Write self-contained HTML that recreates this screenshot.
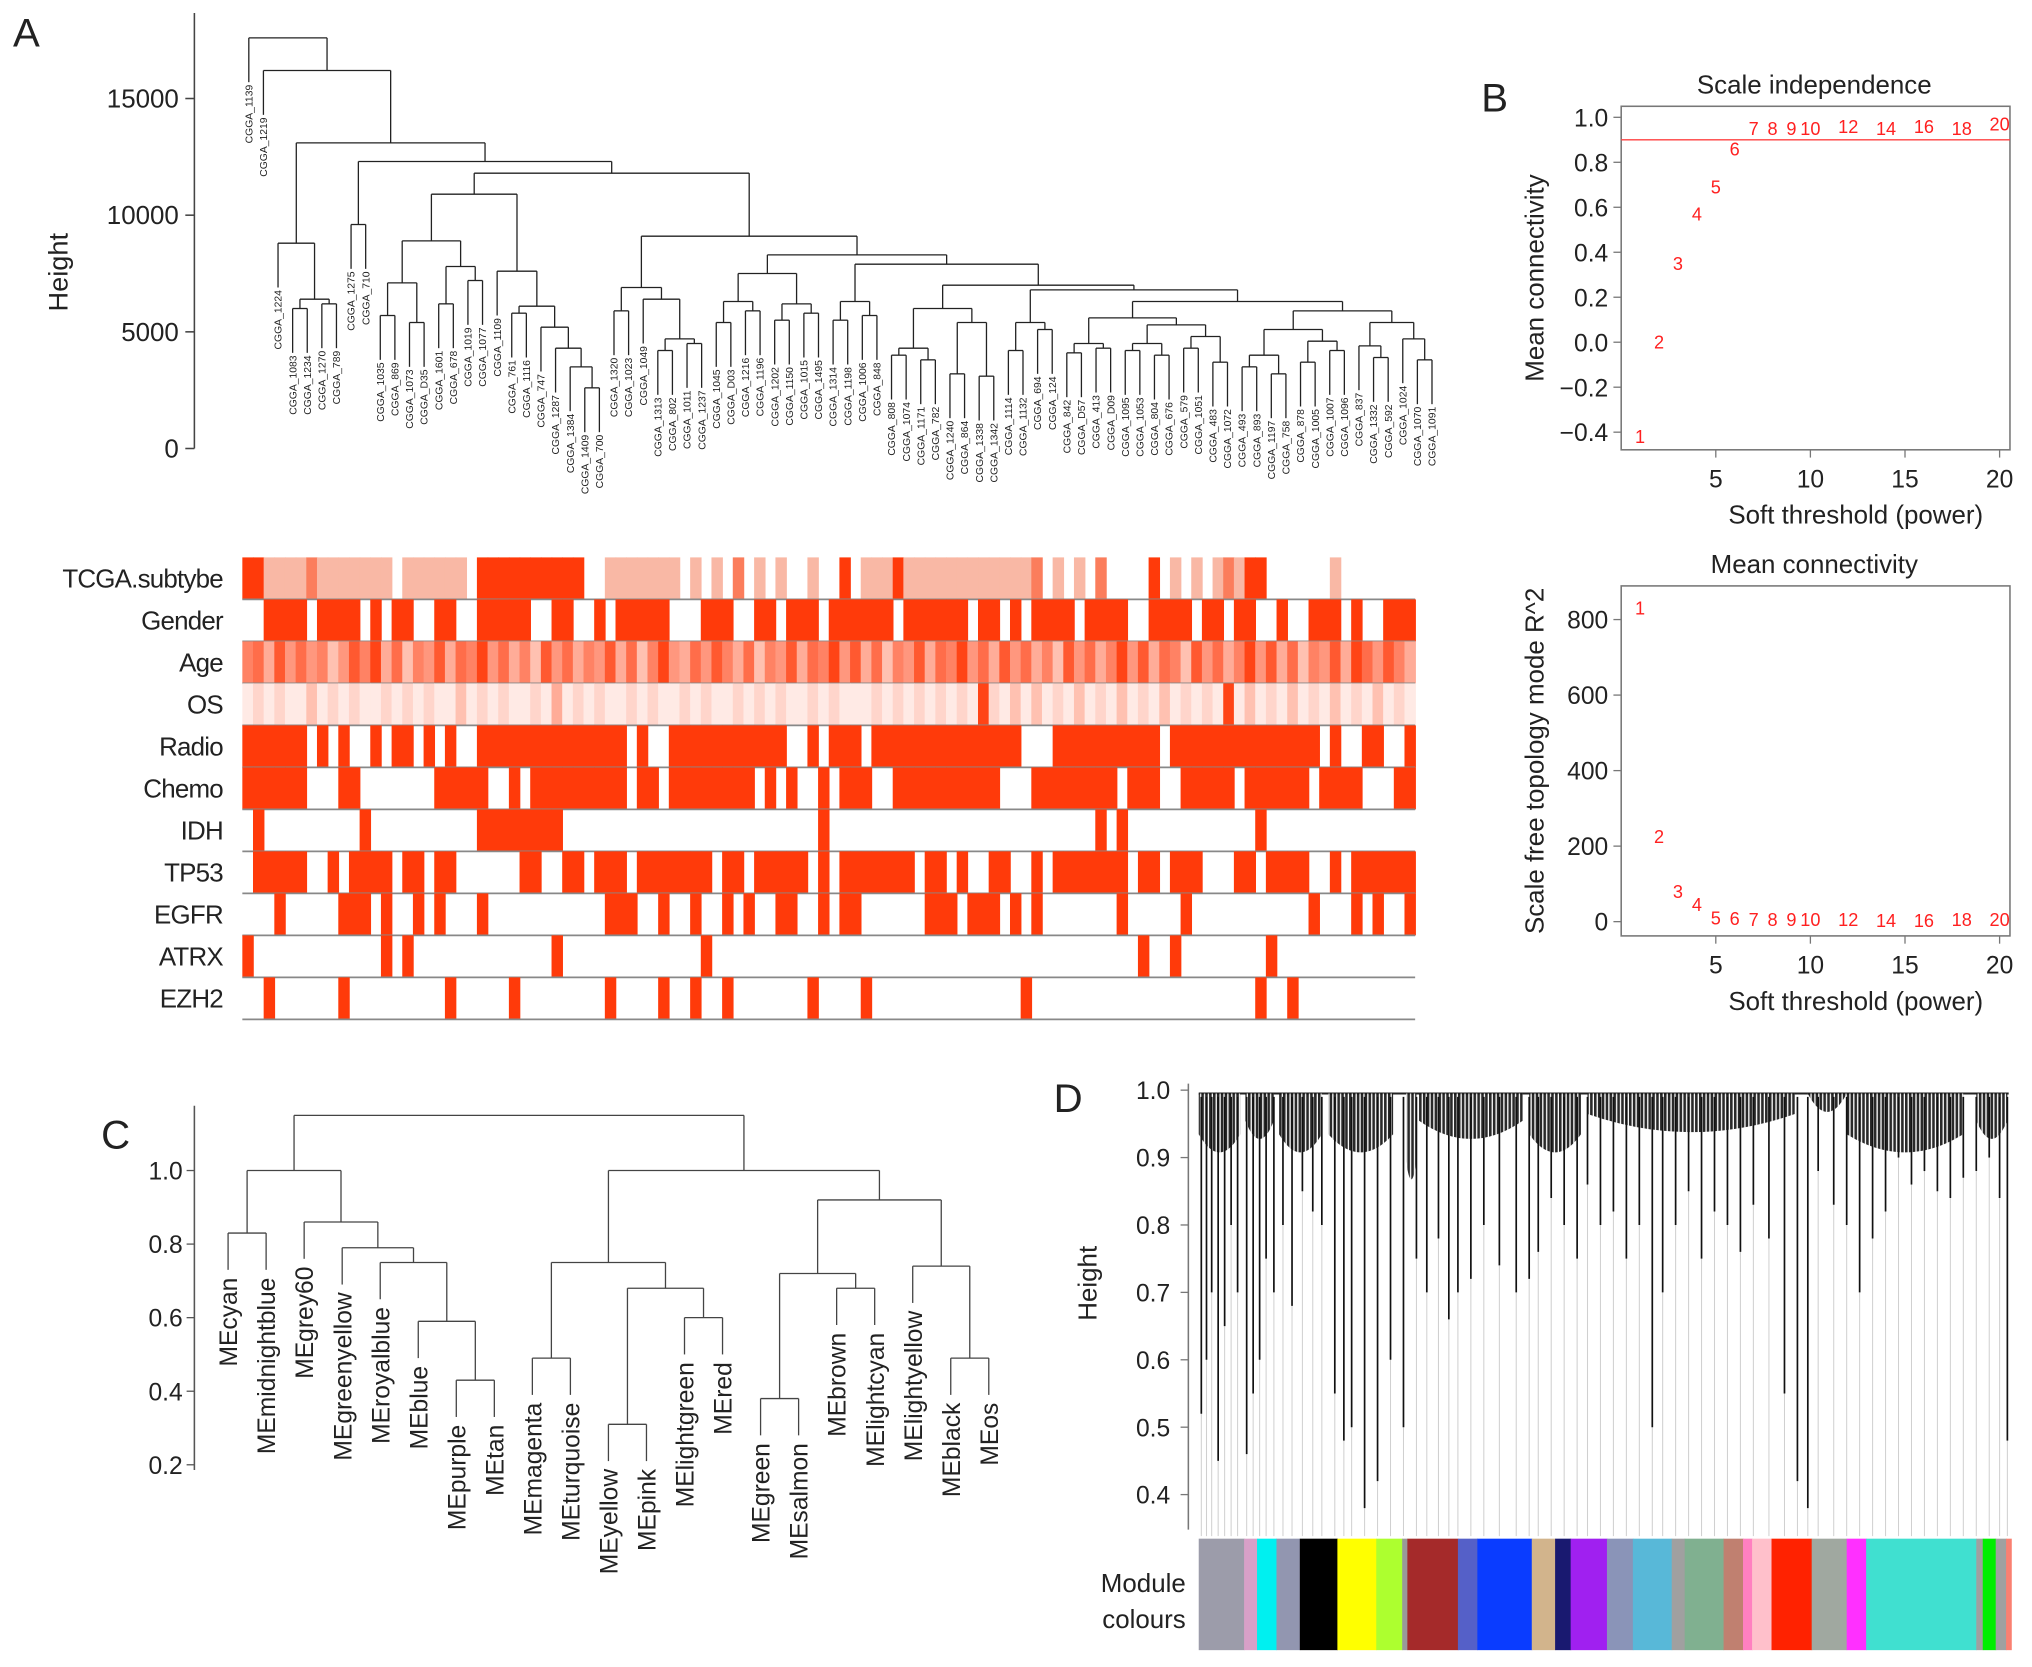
<!DOCTYPE html>
<html><head><meta charset="utf-8"><style>
html,body{margin:0;padding:0;background:#fff;}
svg{display:block;font-family:"Liberation Sans",Arial,sans-serif;}
</style></head><body>
<svg id="fig" width="2032" height="1667" viewBox="0 0 1568 1286" preserveAspectRatio="none" xmlns="http://www.w3.org/2000/svg">
<defs><pattern id="dense" patternUnits="userSpaceOnUse" width="3" height="6"><rect width="3" height="6" fill="#fff"/><rect x="0" y="0" width="2" height="6" fill="#111"/></pattern></defs>
</svg>
<script>
// ---------- DATA ----------
const tA = [8800,"CGGA_1224",[6400,[6000,"CGGA_1083","CGGA_1234"],[6200,"CGGA_1270","CGGA_789"]]];
const tB1 = [10900,[8900,[7100,[5700,"CGGA_1035","CGGA_869"],[5400,"CGGA_1073","CGGA_D35"]],[7800,[6200,"CGGA_1601","CGGA_678"],[7200,"CGGA_1019","CGGA_1077"]]],[7600,"CGGA_1109",[6100,[5800,"CGGA_761","CGGA_1116"],[5200,"CGGA_747",[4300,"CGGA_1287",[3500,"CGGA_1384",[2600,"CGGA_1409","CGGA_700"]]]]]]];
const tR1 = [6900,[5900,"CGGA_1320","CGGA_1023"],[6400,"CGGA_1049",[4700,[4200,"CGGA_1313","CGGA_802"],[4500,"CGGA_1011","CGGA_1237"]]]];
const tR2 = [7500,[6300,[5400,"CGGA_1045","CGGA_D03"],[5900,"CGGA_1216","CGGA_1196"]],[6200,[5500,"CGGA_1202","CGGA_1150"],[5800,"CGGA_1015","CGGA_1495"]]];
const tR3 = [6300,[5500,"CGGA_1314","CGGA_1198"],[5700,"CGGA_1006","CGGA_848"]];
const tR4 = [6000,[4300,[4000,"CGGA_808","CGGA_1074"],[3800,"CGGA_1171","CGGA_782"]],[5400,[3200,"CGGA_1240","CGGA_864"],[3100,"CGGA_1338","CGGA_1342"]]];
const tR5 = [5400,[4200,"CGGA_1114","CGGA_1132"],[5100,"CGGA_694","CGGA_124"]];
const tR6 = [5600,[4500,[4100,"CGGA_842","CGGA_D57"],[4300,"CGGA_413","CGGA_D09"]],[5300,[4500,[4200,"CGGA_1095","CGGA_1053"],[4000,"CGGA_804","CGGA_676"]],[4800,[4300,"CGGA_579","CGGA_1051"],[3700,"CGGA_483","CGGA_1072"]]]];
const tR7 = [5900,[5100,[4000,[3500,"CGGA_493","CGGA_893"],[3200,"CGGA_1197","CGGA_758"]],[4600,[3700,"CGGA_878","CGGA_1005"],[4200,"CGGA_1007","CGGA_1096"]]],[5400,[4400,"CGGA_837",[3900,"CGGA_1332","CGGA_592"]],[4700,"CGGA_1024",[3800,"CGGA_1070","CGGA_1091"]]]];
const sampleTree = [17600,"CGGA_1139",[16200,"CGGA_1219",[13100,tA,[12300,[9600,"CGGA_1275","CGGA_710"],[11800,tB1,[9100,tR1,[8300,tR2,[7900,tR3,[7000,tR4,[6800,tR5,[6300,tR6,tR7]]]]]]]]]]];
const heightTicks = [0,5000,10000,15000];

const traitNames = ["TCGA.subtybe","Gender","Age","OS","Radio","Chemo","IDH","TP53","EGFR","ATRX","EZH2"];
const traitKinds = ["cat","bin","grad","grad","bin","bin","bin","bin","bin","bin","bin"];
const traitValues = [
"33111121111111011111103333333333001111111010102010100100301113111111111111201010200003010101213300000010000000",
"0011110111101011001100111110011001011111000111001101110111111011111101101011110111100111101101100100111010011101",
"6748575635869473658476957463857465847369547586473658476958473658476957485746385746958476385746958473658497586475",
"1212113121211212121131212112141212112121121211212121121211121212121219213131213121312131212191312131213121312131",
"1111110101001011010100111111111111110100111111111110010111011111111111111000111111111101111111111111101001100111",
"1111110001100000001111100101111111110110111111110101001011100111111111100011111111011100111110111111011110001111",
"0100000000010000000000111111110000000000000000000000001000000000000000000000000010100000000000010000000000000000",
"0111110010111101101100000011001101110111111101101111101011111110110100110010111111101101110001101111001011111111",
"0001000001110100101000100000000000111001001001010011001011000000111011101010000000100000100000000000100010100100",
"1000000000000101000000000000010000000000000100000000000000000000000000000000000000001001000000001000000000000000",
"0010000001000000000100000100000000100001001001000000010000100000000000000100000000000000000000010010000000000000"];

const powers = [1,2,3,4,5,6,7,8,9,10,12,14,16,18,20];
const fitR2 = [-0.42,0.0,0.35,0.57,0.69,0.86,0.95,0.95,0.95,0.95,0.96,0.95,0.96,0.95,0.97];
const meanK = [830,225,80,45,10,8,6,5,5,5,5,3,3,5,5];
const xTicksB = [5,10,15,20];
const yTicksB1 = [-0.4,-0.2,0.0,0.2,0.4,0.6,0.8,1.0];
const yTicksB2 = [0,200,400,600,800];
const cutoffR2 = 0.9;

const meTree = [1.15,
 [1.0,[0.83,"MEcyan","MEmidnightblue"],[0.86,"MEgrey60",[0.79,"MEgreenyellow",[0.75,"MEroyalblue",[0.59,"MEblue",[0.43,"MEpurple","MEtan"]]]]]],
 [1.0,[0.75,[0.49,"MEmagenta","MEturquoise"],[0.68,[0.31,"MEyellow","MEpink"],[0.60,"MElightgreen","MEred"]]],
      [0.92,[0.72,[0.38,"MEgreen","MEsalmon"],[0.68,"MEbrown","MElightcyan"]],[0.74,"MElightyellow",[0.49,"MEblack","MEos"]]]]];
const yTicksC = [0.2,0.4,0.6,0.8,1.0];

const branchPos = [2,6,10,15,20,25,30,37,42,47,52,58,65,72,80,88,95,105,112,118,128,138,148,158,168,176,185,193,200,210,220,232,245,255,262,272,282,292,300,310,320,330,340,350,358,368,378,388,398,408,418,428,440,452,462,470,478,490,500,510,520,530,540,550,560,570,580,590,600,610,618,624];
const branchH = [0.52,0.6,0.7,0.45,0.65,0.8,0.7,0.46,0.55,0.6,0.75,0.7,0.8,0.68,0.85,0.82,0.8,0.55,0.48,0.5,0.38,0.42,0.6,0.5,0.75,0.7,0.78,0.66,0.7,0.72,0.8,0.74,0.7,0.72,0.76,0.84,0.8,0.75,0.86,0.8,0.82,0.75,0.8,0.5,0.7,0.8,0.85,0.75,0.82,0.8,0.76,0.83,0.78,0.55,0.42,0.38,0.88,0.83,0.8,0.7,0.78,0.82,0.9,0.86,0.88,0.85,0.84,0.87,0.88,0.9,0.84,0.48];
const massStart = [0,36,62,100,160,170,255,300,470,500,600];
const massEnd = [32,58,95,150,168,250,295,460,500,590,624];
const massDepth = [0.9,0.92,0.9,0.9,0.86,0.92,0.9,0.93,0.96,0.9,0.92];
const moduleColors = ["#9c9caa","#d8a0c8","#00f0f0","#9296b0","#000000","#ffff00","#adff2f","#999999","#a52a2a","#5560c8","#0a3cff","#d2b48c","#191970","#a020f0","#8a94b8","#58b8d8","#a0a0a0","#80b090","#c08070","#ff80c0","#ffc0cb","#ff2200","#a0a8a0","#ff30ff","#40e0d0","#a0a0a0","#00ee00","#a0a0a0","#fa8072"];
const moduleSizes = [35,10,15,18,29,30,20,4,39,15,42,18,12,28,20,30,10,30,15,7,15,31,27,15,85,5,10,8,4];
const yTicksD = [0.4,0.5,0.6,0.7,0.8,0.9,1.0];

// ---------- HELPERS ----------
const NS="http://www.w3.org/2000/svg";
const svg=document.getElementById('fig');
function el(tag,attrs,parent){const e=document.createElementNS(NS,tag);for(const k in attrs)e.setAttribute(k,attrs[k]);(parent||svg).appendChild(e);return e;}
function txt(x,y,s,size,anchor,parent,extra){const e=el('text',Object.assign({x:x,y:y,'font-size':size,'text-anchor':anchor||'start',fill:'#222'},extra||{}),parent);e.textContent=s;return e;}
function grp(){return el('g',{});}
function countLeaves(t){return typeof t==='string'?1:countLeaves(t[1])+countLeaves(t[2]);}

function drawTree(t,g,xs,ys,hang,labelFn,stroke,sw){
  let idx=0;
  function rec(node,parentH){
    if(typeof node==='string'){
      const x=xs(idx++);const yEnd=ys(parentH-hang);
      const l=el('line',{x1:x,y1:ys(parentH),x2:x,y2:yEnd,stroke:stroke,'stroke-width':sw},g);
      
      
      labelFn(node,x,yEnd);
      return {x:x};
    }
    const a=rec(node[1],node[0]);const b=rec(node[2],node[0]);
    const y=ys(node[0]);
    const h=el('line',{x1:a.x,y1:y,x2:b.x,y2:y,stroke:stroke,'stroke-width':sw},g);
    
    
    const mx=(a.x+b.x)/2;
    if(parentH!==null){
      const v=el('line',{x1:mx,y1:ys(parentH),x2:mx,y2:y,stroke:stroke,'stroke-width':sw},g);
      
      
    }
    return {x:mx};
  }
  rec(t,null);
}

[["A",10,36],["B",1143,86],["C",78,886],["D",813,858]].forEach(p=>{
  const t=txt(p[1],p[2],p[0],31,'start');
  
  
});

// ---------- PANEL A DENDROGRAM ----------
(function(){
  const g=grp();
  
  
  const n=countLeaves(sampleTree);
  const xs=i=>192+i*(1105-192)/(n-1);
  const ys=h=>346-h*0.018;
  el('line',{x1:150,y1:10,x2:150,y2:346,stroke:'#444','stroke-width':1.2},g);
  heightTicks.forEach(v=>{
    const tk=el('line',{x1:143,y1:ys(v),x2:150,y2:ys(v),stroke:'#444','stroke-width':1.2},g);
    
    
    const l=txt(138,ys(v)+7,String(v),20,'end',g);
    
    
  });
  const yl=txt(0,0,"Height",21,'middle',g,{transform:'translate(52,210) rotate(-90)'});
  
  
  drawTree(sampleTree,g,xs,ys,1900,(name,x,y)=>{
    const t=txt(0,0,name,8,'end',g,{transform:'translate('+(x+2.8)+','+(y+2)+') rotate(-90)'});
    
    
  },'#222',1);
})();

// ---------- PANEL A HEATMAP ----------
(function(){
  const g=grp();
  
  
  const N=110,x0=187,x1=1092,top0=430,rh=32.4,cw=(x1-x0)/N;
  const red=[255,58,10];
  function shade(f){return 'rgb('+red.map(c=>Math.round(255-(255-c)*f)).join(',')+')';}
  const catCol=['#ffffff','#f9b8a5','#fb7d5c','#ff3a0a'];
  traitNames.forEach((name,r)=>{
    const y=top0+r*rh;
    const s=traitValues[r].padEnd(N,'0').slice(0,N);
    for(let i=0;i<N;i++){
      const v=+s[i];let col;
      if(traitKinds[r]==='bin'){if(!v)continue;col='#ff3a0a';}
      else if(traitKinds[r]==='cat'){if(!v)continue;col=catCol[v];}
      else col=shade(Math.max(0.04,v/9*0.95));
      const c=el('rect',{x:x0+i*cw,y:y,width:cw+0.6,height:rh,fill:col},g);
      
      
    }
    const ln=el('line',{x1:x0,y1:y+rh,x2:x1,y2:y+rh,stroke:'#888','stroke-width':1.3},g);
    
    
    const lb=txt(172,y+rh/2+7,name,20,'end',g,{'letter-spacing':'-0.6'});
    
    
  });
})();

// ---------- PANEL B ----------
function scatterPanel(name,title,ys,yTicks,vals,top0,bottom,ylab,fmt,withCut){
  const g=grp();
  
  
  const xs=p=>1324+(p-5)*14.6;
  el('rect',{x:1251,y:top0,width:300,height:bottom-top0,fill:'none',stroke:'#777','stroke-width':1.2},g);
  const t=txt(1400,top0-10,title,20,'middle',g);
  
  
  yTicks.forEach(v=>{
    const tk=el('line',{x1:1245,y1:ys(v),x2:1251,y2:ys(v),stroke:'#777'},g);
    
    
    const l=txt(1241,ys(v)+7,fmt(v),19,'end',g);
    
    
  });
  xTicksB.forEach(v=>{
    const tk=el('line',{x1:xs(v),y1:bottom,x2:xs(v),y2:bottom+6,stroke:'#777'},g);
    
    
    const l=txt(xs(v),bottom+29,String(v),19,'middle',g);
    
    
  });
  const xl=txt(1432,bottom+57,"Soft threshold (power)",20,'middle',g);
  
  
  const yl=txt(0,0,ylab,20,'middle',g,{transform:'translate(1191,'+((top0+bottom)/2)+') rotate(-90)'});
  
  
  if(withCut){
    const c=el('line',{x1:1251,y1:ys(cutoffR2),x2:1551,y2:ys(cutoffR2),stroke:'#ff4040','stroke-width':1},g);
    
    
  }
  powers.forEach((p,i)=>{
    const l=txt(xs(p),ys(vals[i])+5,String(p),14,'middle',g,{fill:'#ff2020'});
    
    
  });
}
scatterPanel('scale-independence-plot','Scale independence',v=>264-v*173.5,yTicksB1,fitR2,82,347,'Mean connectivity',v=>v.toFixed(1).replace('-','\u2212'),true);
scatterPanel('mean-connectivity-plot','Mean connectivity',v=>711-v*0.2913,yTicksB2,meanK,452,722,'Scale free topology mode R^2',v=>String(v),false);

// ---------- PANEL C ----------
(function(){
  const g=grp();
  
  
  const ys=h=>903-(h-1.0)*283.75;
  const xs=i=>176+i*29.35;
  el('line',{x1:150,y1:853,x2:150,y2:ys(0.2)+4,stroke:'#555','stroke-width':1.2},g);
  yTicksC.forEach(v=>{
    const tk=el('line',{x1:144,y1:ys(v),x2:150,y2:ys(v),stroke:'#555'},g);
    
    
    const l=txt(141,ys(v)+7,v.toFixed(1),19,'end',g);
    
    
  });
  drawTree(meTree,g,xs,ys,0.1,(name,x,y)=>{
    const t=txt(0,0,name,19,'end',g,{transform:'translate('+(x+7)+','+(y+6)+') rotate(-90)'});
    
    
  },'#444',1);
})();

// ---------- PANEL D ----------
(function(){
  const g=grp();
  
  
  const ys=h=>841+(1.0-h)*520;
  const total=moduleSizes.reduce((a,b)=>a+b,0);
  const xs=i=>925+i*(627/total);
  const barTop=1187,barBot=1273;
  el('line',{x1:917,y1:836,x2:917,y2:1180,stroke:'#777','stroke-width':1.2},g);
  yTicksD.forEach(v=>{
    const tk=el('line',{x1:911,y1:ys(v),x2:917,y2:ys(v),stroke:'#777'},g);
    
    
    const l=txt(903,ys(v)+7,v.toFixed(1),19,'end',g);
    
    
  });
  const yl=txt(0,0,"Height",20,'middle',g,{transform:'translate(846,990) rotate(-90)'});
  
  
  const rootLine=el('line',{x1:925,y1:ys(0.995),x2:1550,y2:ys(0.995),stroke:'#222','stroke-width':1.5},g);
  
  
  branchPos.forEach((bp,i)=>{
    const x=xs(bp);
    const gl=el('line',{x1:x,y1:ys(branchH[i]),x2:x,y2:barTop-2,stroke:'#d0d0d0','stroke-width':0.8},g);
    
    
  });
  massStart.forEach((s,i)=>{
    const a=xs(s),b=xs(massEnd[i]),d=ys(massDepth[i]),t=ys(0.995);
    const p=el('path',{d:'M'+a+','+t+' L'+b+','+t+' L'+b+','+(d-18)+' Q'+((a+b)/2)+','+(d+10)+' '+a+','+(d-18)+' Z',fill:'url(#dense)',opacity:0.9},g);
    
    
  });
  branchPos.forEach((bp,i)=>{
    const x=xs(bp);
    const bl=el('line',{x1:x,y1:ys(0.99),x2:x,y2:ys(branchH[i]),stroke:'#111','stroke-width':1.3},g);
    
    
  });
  let acc=0;
  moduleSizes.forEach((s,i)=>{
    const r=el('rect',{x:xs(acc),y:barTop,width:s*627/total+0.4,height:barBot-barTop,fill:moduleColors[i]},g);
    
    
    acc+=s;
  });
  const l1=txt(915,1228,"Module",20,'end',g);
  
  
  const l2=txt(915,1256,"colours",20,'end',g);
  
  
})();
</script>
</body></html>
